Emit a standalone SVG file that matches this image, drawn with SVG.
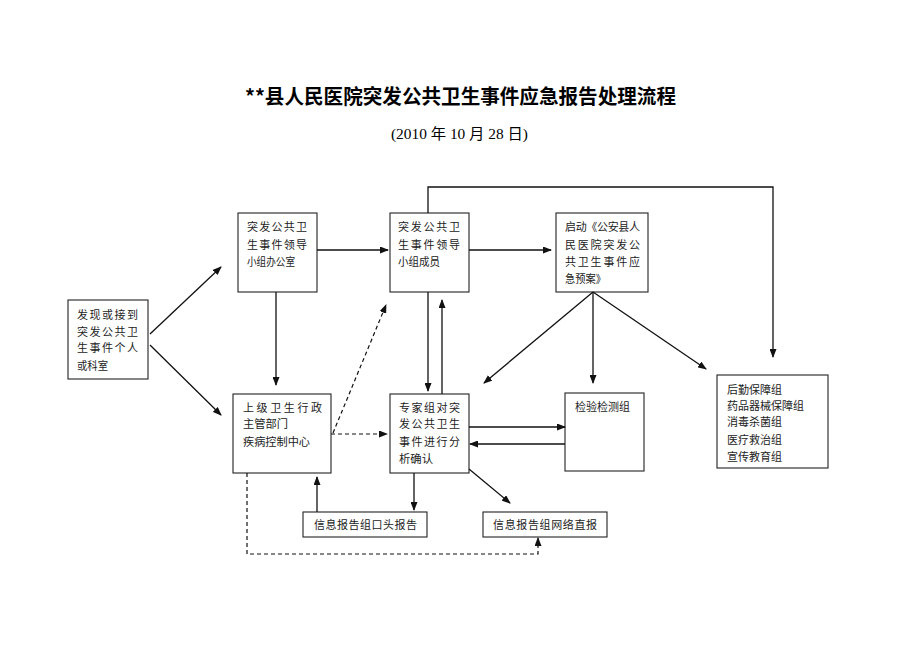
<svg xmlns="http://www.w3.org/2000/svg" width="920" height="651" viewBox="0 0 920 651">
<style>
.bg{fill:#fff}
.box{fill:#fff;stroke:#222;stroke-width:1.1}
.t{font-family:"Noto Sans CJK SC","Liberation Sans",sans-serif;font-size:11px;fill:#222}
.c{fill:none;stroke:#111;stroke-width:1.3}
.d{fill:none;stroke:#111;stroke-width:1.2;stroke-dasharray:4 3}
.title{font-family:"Noto Sans CJK SC","Liberation Sans",sans-serif;font-size:20px;font-weight:bold;fill:#000}
.sub{font-family:"Liberation Serif","Noto Sans CJK SC",serif;font-size:15px;fill:#000}
</style>
<defs>
<marker id="ah" markerWidth="9" markerHeight="7" refX="8" refY="3.5" orient="auto" markerUnits="userSpaceOnUse">
<path d="M0,0 L9,3.5 L0,7 z" fill="#111"/>
</marker>
</defs>
<rect class="bg" x="0" y="0" width="920" height="651"/>
<text class="title" x="245" y="104" textLength="431" lengthAdjust="spacingAndGlyphs">**县人民医院突发公共卫生事件应急报告处理流程</text>
<text class="sub" x="391" y="139" textLength="137" lengthAdjust="spacingAndGlyphs">(2010 年 10 月 28 日)</text>

<g id="n-report">
<rect class="box" x="68" y="300" width="80" height="79"/>
<text class="t" x="77" y="319" textLength="61" lengthAdjust="spacing">发现或接到</text>
<text class="t" x="77" y="336" textLength="61" lengthAdjust="spacing">突发公共卫</text>
<text class="t" x="77" y="352" textLength="61" lengthAdjust="spacing">生事件个人</text>
<text class="t" x="77" y="370" textLength="31" lengthAdjust="spacingAndGlyphs">或科室</text>
</g>
<g id="n-office">
<rect class="box" x="238" y="213" width="79" height="79"/>
<text class="t" x="247" y="231" textLength="60" lengthAdjust="spacing">突发公共卫</text>
<text class="t" x="247" y="249" textLength="60" lengthAdjust="spacing">生事件领导</text>
<text class="t" x="247" y="266" textLength="48" lengthAdjust="spacingAndGlyphs">小组办公室</text>
</g>
<g id="n-members">
<rect class="box" x="390" y="213" width="79" height="79"/>
<text class="t" x="398" y="231" textLength="62" lengthAdjust="spacing">突发公共卫</text>
<text class="t" x="398" y="249" textLength="62" lengthAdjust="spacing">生事件领导</text>
<text class="t" x="398" y="266" textLength="42" lengthAdjust="spacingAndGlyphs">小组成员</text>
</g>
<g id="n-plan">
<rect class="box" x="556" y="213" width="92" height="79"/>
<text class="t" x="565" y="231" textLength="75" lengthAdjust="spacing">启动《公安县人</text>
<text class="t" x="565" y="249" textLength="75" lengthAdjust="spacing">民医院突发公</text>
<text class="t" x="565" y="266" textLength="75" lengthAdjust="spacing">共卫生事件应</text>
<text class="t" x="565" y="283" textLength="41" lengthAdjust="spacingAndGlyphs">急预案》</text>
</g>
<g id="n-admin">
<rect class="box" x="233" y="394" width="98" height="79"/>
<text class="t" x="243" y="412" textLength="79" lengthAdjust="spacing">上级卫生行政</text>
<text class="t" x="243" y="428" textLength="45" lengthAdjust="spacingAndGlyphs">主管部门</text>
<text class="t" x="243" y="446" textLength="67" lengthAdjust="spacingAndGlyphs">疾病控制中心</text>
</g>
<g id="n-expert">
<rect class="box" x="390" y="394" width="79" height="79"/>
<text class="t" x="399" y="412" textLength="61" lengthAdjust="spacing">专家组对突</text>
<text class="t" x="399" y="428" textLength="61" lengthAdjust="spacing">发公共卫生</text>
<text class="t" x="399" y="446" textLength="61" lengthAdjust="spacing">事件进行分</text>
<text class="t" x="399" y="463" textLength="34" lengthAdjust="spacingAndGlyphs">析确认</text>
</g>
<g id="n-lab">
<rect class="box" x="565" y="393" width="79" height="78"/>
<text class="t" x="575" y="411" textLength="55" lengthAdjust="spacing">检验检测组</text>
</g>
<g id="n-groups">
<rect class="box" x="717" y="375" width="111" height="93"/>
<text class="t" x="727" y="394">后勤保障组</text>
<text class="t" x="727" y="410">药品器械保障组</text>
<text class="t" x="727" y="426">消毒杀菌组</text>
<text class="t" x="727" y="444">医疗救治组</text>
<text class="t" x="727" y="461">宣传教育组</text>
</g>
<g id="n-oral">
<rect class="box" x="303" y="512" width="124" height="25"/>
<text class="t" x="314" y="529" textLength="103" lengthAdjust="spacing">信息报告组口头报告</text>
</g>
<g id="n-net">
<rect class="box" x="483" y="512" width="124" height="25"/>
<text class="t" x="493" y="529" textLength="104" lengthAdjust="spacing">信息报告组网络直报</text>
</g>

<g id="connectors">
<path class="c" d="M150,334 L221,267" marker-end="url(#ah)"/>
<path class="c" d="M150,345 L221,415" marker-end="url(#ah)"/>
<path class="c" d="M276,292 L276,385" marker-end="url(#ah)"/>
<path class="c" d="M317,250 L388,250" marker-end="url(#ah)"/>
<path class="c" d="M469,250 L551,250" marker-end="url(#ah)"/>
<path class="c" d="M428,213 L428,187 L773,187 L773,357" marker-end="url(#ah)"/>
<path class="c" d="M428,292 L428,391" marker-end="url(#ah)"/>
<path class="c" d="M442,394 L442,300" marker-end="url(#ah)"/>
<path class="c" d="M593,292 L484,383" marker-end="url(#ah)"/>
<path class="c" d="M593,292 L593,383" marker-end="url(#ah)"/>
<path class="c" d="M593,292 L706,369" marker-end="url(#ah)"/>
<path class="d" d="M331,434 L387,434" marker-end="url(#ah)"/>
<path class="d" d="M333,433 L386,305" marker-end="url(#ah)"/>
<path class="c" d="M469,427 L565,427" marker-end="url(#ah)"/>
<path class="c" d="M565,444 L470,444" marker-end="url(#ah)"/>
<path class="c" d="M469,469 L510,503" marker-end="url(#ah)"/>
<path class="c" d="M414,473 L414,510" marker-end="url(#ah)"/>
<path class="c" d="M317,512 L317,477" marker-end="url(#ah)"/>
<path class="d" d="M247,473 L247,554 L538,554 L538,538" marker-end="url(#ah)"/>
</g>
</svg>
